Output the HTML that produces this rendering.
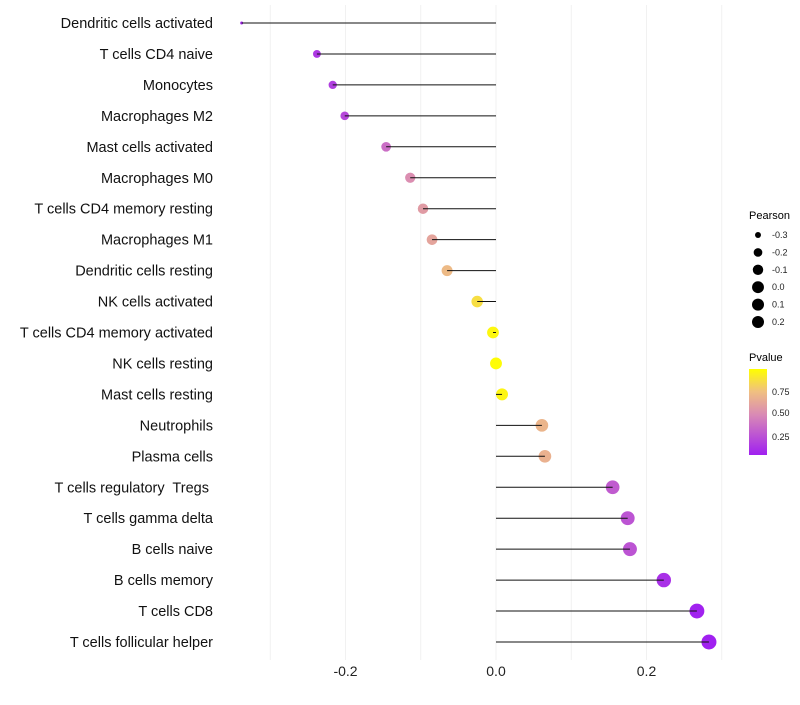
<!DOCTYPE html>
<html><head><meta charset="utf-8"><style>
body{margin:0;background:#fff;font-family:"Liberation Sans",sans-serif}
text{white-space:pre}
</style></head><body>
<svg id="chart" width="800" height="700" xmlns="http://www.w3.org/2000/svg">
<g id="grid"></g>
<g id="marks"></g>
<g id="ylab"></g>
<g id="xlab"></g>
<g font-size="10">
<text x="749" y="219" font-size="11">Pearson</text>
</g>
<g id="sizeleg"></g>
<g>
<defs><linearGradient id="pg" x1="0" y1="1" x2="0" y2="0">
<stop offset="0" stop-color="#A020F0"/><stop offset="0.47" stop-color="#D98AB5"/><stop offset="0.74" stop-color="#F0C080"/><stop offset="1" stop-color="#FFFF00"/></linearGradient></defs>
<text x="749" y="361" font-size="11">Pvalue</text>
<rect x="749" y="369" width="18" height="86" fill="url(#pg)"/>
<g font-size="9" fill="#222">
<text x="772" y="395">0.75</text><text x="772" y="416">0.50</text><text x="772" y="440">0.25</text></g>
</g>
</svg>
<script>
const categories=["Dendritic cells activated","T cells CD4 naive","Monocytes","Macrophages M2","Mast cells activated","Macrophages M0","T cells CD4 memory resting","Macrophages M1","Dendritic cells resting","NK cells activated","T cells CD4 memory activated","NK cells resting","Mast cells resting","Neutrophils","Plasma cells","T cells regulatory  Tregs ","T cells gamma delta","B cells naive","B cells memory","T cells CD8","T cells follicular helper"];
const pearson=[-0.338,-0.238,-0.217,-0.201,-0.146,-0.114,-0.097,-0.085,-0.065,-0.025,-0.004,0.0,0.008,0.061,0.065,0.155,0.175,0.178,0.223,0.267,0.283];
const pvalue=[0.08,0.15,0.18,0.22,0.38,0.52,0.58,0.62,0.72,0.87,0.97,0.99,0.96,0.7,0.68,0.3,0.27,0.27,0.12,0.06,0.05];
const xTicks=[-0.2,0.0,0.2];
const sizeBreaks=[-0.3,-0.2,-0.1,0.0,0.1,0.2];
const NS="http://www.w3.org/2000/svg";
const x=v=>496+v*752.5;
const y=i=>23+i*30.95;
const r=v=>1.5+6*Math.sqrt(Math.max(0,(v+0.338)/0.62));
const stops=[[0.05,[160,32,240]],[0.5,[217,138,181]],[0.75,[240,192,128]],[1,[255,255,0]]];
function col(p){p=Math.max(0.05,Math.min(1,p));for(let k=0;k<stops.length-1;k++){const a=stops[k],b=stops[k+1];if(p<=b[0]){const t=(p-a[0])/(b[0]-a[0]);const c=a[1].map((u,j)=>Math.round(u+(b[1][j]-u)*t));return`rgb(${c})`;}}return"rgb(255,255,0)";}
function mk(tag,at,parent){const e=document.createElementNS(NS,tag);for(const k in at)e.setAttribute(k,at[k]);parent.appendChild(e);return e;}
const grid=document.getElementById('grid');
for(let g=-0.3;g<=0.31;g+=0.1){const l=mk('line',{x1:x(g),x2:x(g),y1:5,y2:660,stroke:'#f1f1f1','stroke-width':1},grid);

}
const marks=document.getElementById('marks'),yl=document.getElementById('ylab'),xl=document.getElementById('xlab');
categories.forEach((c,i)=>{
 const pt=mk('circle',{cx:x(pearson[i]),cy:y(i),r:r(pearson[i]),fill:col(pvalue[i])},marks);
 
 
 const ln=mk('line',{x1:x(0),x2:x(pearson[i]),y1:y(i),y2:y(i),stroke:'#111','stroke-width':1},marks);
 
 
 const t=mk('text',{x:213,y:y(i)+5,'text-anchor':'end','font-size':14.5,fill:'#111'},yl);t.textContent=c;
 
 
});
xTicks.forEach(v=>{const t=mk('text',{x:x(v),y:676,'text-anchor':'middle','font-size':14,fill:'#222'},xl);t.textContent=v.toFixed(1);

});
const sl=document.getElementById('sizeleg');
sizeBreaks.forEach((v,i)=>{const yy=235+i*17.4;
 const c=mk('circle',{cx:758,cy:yy,r:Math.min(6,r(v)),fill:'#000'},sl);
 
 
 const t=mk('text',{x:772,y:yy+3,'font-size':9,fill:'#222'},sl);t.textContent=v.toFixed(1);
 
 });
</script>
</body></html>
